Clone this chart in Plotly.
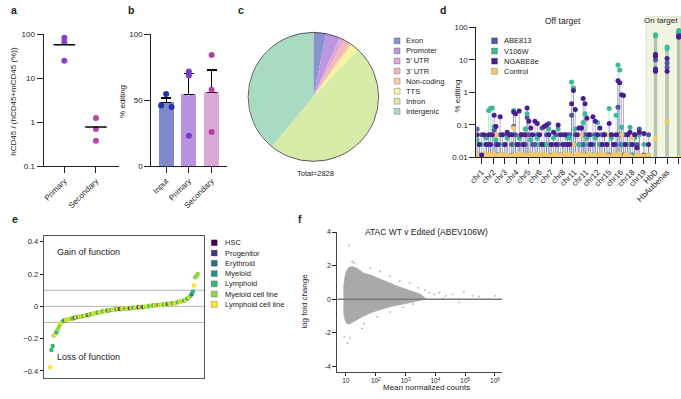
import numpy as np
import plotly.graph_objects as go

W, H = 681, 399
FONT = "Liberation Sans"
INK = "#222222"


def px(x):
    return x / W


def py(y):
    return 1 - y / H


# ---------------- data: panel a ----------------
A_CATS = ["Primary", "Secondary"]
A_PRIMARY = [83, 66, 25]
A_SECONDARY = [1.25, 0.70, 0.38]
A_COLORS = ["#8a3fc4", "#b546b0"]

# ---------------- data: panel b ----------------
B_CATS = ["Input", "Primary", "Secondary"]
B_INPUT = [54.8, 46.0, 45.0]
B_PRIMARY = [71.8, 68.7, 23.2]
B_SECONDARY = [84.4, 58.0, 26.0]
B_BAR_COLORS = ["#7f88c9", "#b893df", "#dba7d6"]
B_DOT_COLORS = ["#2335a6", "#7b3bc6", "#b0429f"]

# ---------------- data: panel c ----------------
C_LABELS = ["Exon", "Promoter", "5' UTR", "3' UTR", "Non-coding", "TTS", "Intron", "Intergenic"]
C_COUNTS = [90, 100, 35, 45, 15, 57, 1386, 1100]
C_COLORS = ["#8a92d0", "#bb97e1", "#dfa8da", "#f1b8b5", "#f8d09f", "#f7f3a3", "#d7eba9", "#a8dbc2"]

# ---------------- data: panel d ----------------
D_LABELS = ["chr1", "chr2", "chr3", "chr4", "chr5", "chr6", "chr7", "chr8", "chr11", "chr11",
            "chr12", "chr15", "chr16", "chr18", "chr19", "HbD", "HbAubenas", "Total correction"]
D_SERIES = ["ABE813", "V106W", "NGABE8e", "Control"]
D_COLORS = ["#4b58a3", "#3db896", "#4a1d8f", "#f6c86b"]

ABE813_OFF = [
    [0.075, 0.025, 0.05, 0.012, 0.025],
    [0.025, 0.05, 0.012, 0.07, 0.025, 0.012],
    [0.05, 0.012, 0.025, 0.05, 0.01],
    [0.025, 0.09, 0.05, 0.012, 0.025, 0.05],
    [0.05, 0.025, 0.17, 0.05, 0.012, 0.025],
    [0.025, 0.05, 0.012, 0.08, 0.025],
    [0.05, 0.11, 0.025, 0.012, 0.05],
    [0.025, 0.012, 0.05, 0.025, 0.05],
    [0.05, 0.2, 0.025, 0.05, 0.012, 0.025],
    [0.08, 0.025, 0.05, 0.012, 0.025, 0.05],
    [0.025, 0.05, 0.012, 0.025, 0.05],
    [0.05, 0.025, 0.012, 0.05, 0.025],
    [0.025, 0.35, 0.05, 0.025, 0.012, 0.05],
    [0.05, 0.025, 0.012, 0.05, 0.025],
    [0.075, 0.012, 0.05],
]
V106W_OFF = [
    [0.035, 0.012, 0.025, 0.01, 0.04],
    [0.28, 0.32, 0.33, 0.09, 0.035, 0.012],
    [0.025, 0.01, 0.012, 0.04, 0.01],
    [0.012, 0.28, 0.025, 0.01, 0.04, 0.012],
    [0.025, 0.075, 0.22, 0.012, 0.035, 0.01],
    [0.012, 0.04, 0.025, 0.01, 0.012],
    [0.025, 0.075, 0.012, 0.04, 0.01],
    [0.075, 0.012, 0.025, 0.01, 0.04],
    [0.04, 2.1, 1.4, 0.075, 0.012, 0.025],
    [0.012, 0.12, 0.22, 0.04, 0.025, 0.012],
    [0.012, 0.04, 0.12, 0.025, 0.01],
    [0.025, 0.012, 0.32, 0.04, 0.012],
    [0.2, 7.0, 4.9, 0.085, 0.025, 0.012],
    [0.025, 0.085, 0.012, 0.04, 0.01],
    [0.05, 0.025, 0.012],
]
NGABE8E_OFF = [
    [0.05, 0.025, 0.012, 0.05, 0.025],
    [0.05, 0.025, 0.05, 0.2, 0.09, 0.025],
    [0.18, 0.05, 0.025, 0.06, 0.05],
    [0.05, 0.25, 0.22, 0.025, 0.27, 0.05],
    [0.025, 0.05, 0.33, 0.13, 0.08, 0.05],
    [0.13, 0.11, 0.05, 0.025, 0.09],
    [0.1, 0.05, 0.025, 0.06, 0.025],
    [0.1, 0.05, 0.025, 0.05, 0.025],
    [0.025, 0.45, 1.15, 0.3, 0.05, 0.08],
    [0.08, 0.65, 0.45, 0.16, 0.05, 0.025],
    [0.18, 0.13, 0.05, 0.08, 0.025],
    [0.05, 0.025, 0.11, 0.05, 0.025],
    [0.05, 2.3, 2.0, 0.85, 0.8, 0.025],
    [0.05, 0.06, 0.025, 0.05, 0.02],
    [0.06, 0.055, 0.025],
]
CONTROL_OFF = [
    [0.012, 0.011, 0.01, 0.012, 0.013],
    [0.011, 0.012, 0.01, 0.013, 0.05, 0.011],
    [0.012, 0.013, 0.011, 0.012, 0.01],
    [0.011, 0.08, 0.012, 0.01, 0.013, 0.012],
    [0.012, 0.05, 0.011, 0.012, 0.01, 0.013],
    [0.011, 0.012, 0.013, 0.01, 0.012],
    [0.012, 0.011, 0.01, 0.013, 0.012],
    [0.01, 0.012, 0.011, 0.013, 0.012],
    [0.012, 0.011, 0.025, 0.01, 0.013, 0.012],
    [0.05, 0.012, 0.011, 0.01, 0.013, 0.012],
    [0.011, 0.012, 0.01, 0.013, 0.012],
    [0.012, 0.05, 0.011, 0.01, 0.013],
    [0.011, 0.012, 0.013, 0.05, 0.01, 0.012],
    [0.012, 0.011, 0.04, 0.01, 0.012],
    [0.012, 0.011, 0.012],
]
ABE813_ON = [[10, 5.5], [8, 6], [65]]
V106W_ON = [[60, 55], [25, 22], [80, 75]]
NGABE8E_ON = [[15, 13, 4.8, 4.5], [11, 4.5], [55, 50]]
CONTROL_ON = [[0.038], [0.13], [0.01]]

# ---------------- data: panel e ----------------
E_CATEGORIES = ["HSC", "Progenitor", "Erythroid", "Myeloid", "Lymphoid", "Myeloid cell line", "Lymphoid cell line"]
E_CODES_KEY = ["H", "P", "E", "M", "L", "m", "l"]
E_COLORS = ["#440154", "#443983", "#31688e", "#21908c", "#35b779", "#8fd744", "#fde725"]
E_VALUES = [
    -0.378, -0.27, -0.245, -0.18, -0.175, -0.16, -0.145, -0.128, -0.114, -0.101,
    -0.094, -0.089, -0.086, -0.084, -0.082, -0.080, -0.078, -0.077, -0.075, -0.073,
    -0.071, -0.069, -0.067, -0.066, -0.064, -0.063, -0.061, -0.059, -0.058, -0.056,
    -0.055, -0.053, -0.051, -0.049, -0.047, -0.046, -0.044, -0.042, -0.040, -0.038,
    -0.037, -0.035, -0.033, -0.031, -0.030, -0.028, -0.026, -0.025, -0.024, -0.023,
    -0.022, -0.021, -0.020, -0.019, -0.018, -0.017, -0.016, -0.016, -0.015, -0.015,
    -0.014, -0.013, -0.012, -0.012, -0.011, -0.011, -0.010, -0.010, -0.009, -0.008,
    -0.008, -0.007, -0.006, -0.006, -0.005, -0.004, -0.004, -0.003, -0.002, 0.000,
    0.002, 0.003, 0.004, 0.005, 0.005, 0.006, 0.007, 0.008, 0.008, 0.009,
    0.010, 0.010, 0.011, 0.012, 0.013, 0.014, 0.015, 0.016, 0.017, 0.018,
    0.019, 0.020, 0.022, 0.024, 0.026, 0.028, 0.029, 0.031, 0.033, 0.036,
    0.040, 0.045, 0.050, 0.056, 0.063, 0.075, 0.092, 0.13, 0.18, 0.19, 0.20,
]
E_CODES = list(
    "lLLmlLmmmlmLMlm"
    "lmlLmPlmMlmlLml"
    "mPlmLlmlmMlmlLm"
    "lmElmLlmlMlmHlm"
    "lLmlmPlmMlmlHlm"
    "LPlmlmLmlMlmlEl"
    "mlmLlmPlmlMlmlL"
    "mlmlMlmLlmMLlmmm"
)

# ---------------- data: panel f ----------------
F_ENV_X = [8.2, 9.1, 10.5, 12.6, 16.2, 23.4, 40, 66, 141, 302, 645, 1380, 2630, 3800, 4900]
F_ENV_UP = [0.6, 1.3, 1.7, 1.9, 1.95, 1.85, 1.55, 1.45, 1.2, 0.95, 0.72, 0.52, 0.35, 0.2, 0.05]
F_ENV_LO = [-0.7, -1.2, -1.45, -1.5, -1.4, -1.25, -1.0, -0.82, -0.63, -0.45, -0.33, -0.22, -0.12, -0.04, 0.0]
F_OUT_X = [12.6, 11.2, 8.7, 13.5, 16, 18.6, 9.8, 35, 66, 141, 302, 645, 1380, 2630, 4370, 6300,
           9300, 13800, 22400, 38000, 63000, 91000, 174000, 288000, 1020000, 1780, 830, 302, 110,
           40, 2340, 18000, 29000]
F_OUT_Y = [3.2, -2.62, -2.23, -2.3, 2.23, 2.17, -1.2, -1.74, 1.84, 1.65, 1.36, 1.07, 0.97, 0.68,
           0.54, 0.39, 0.29, 0.39, 0.2, 0.29, -0.19, 0.45, 0.2, 0.16, 0.2, -0.29, -0.48, -0.77,
           -1.06, -1.45, 0.04, 0.04, 0.0]

fig = go.Figure()

# ================= panel a =================
for i, vals in enumerate([A_PRIMARY, A_SECONDARY]):
    fig.add_trace(go.Scatter(x=[i] * len(vals), y=vals, mode="markers",
                             marker=dict(color=A_COLORS[i], size=6),
                             xaxis="x", yaxis="y", showlegend=False, hoverinfo="skip"))
    m = float(np.mean(vals))
    fig.add_trace(go.Scatter(x=[i - 0.34, i + 0.34], y=[m, m], mode="lines",
                             line=dict(color="black", width=1.5),
                             xaxis="x", yaxis="y", showlegend=False, hoverinfo="skip"))

# ================= panel b =================
b_groups = [B_INPUT, B_PRIMARY, B_SECONDARY]
b_means = [float(np.mean(v)) for v in b_groups]
b_sems = [float(np.std(v, ddof=1) / np.sqrt(len(v))) for v in b_groups]
fig.add_trace(go.Bar(x=list(range(len(B_CATS))), y=b_means, width=0.65,
                     marker=dict(color=B_BAR_COLORS, line=dict(width=0)),
                     error_y=dict(type="data", array=b_sems, arrayminus=[0] * 3, symmetric=False,
                                  color="black", thickness=1.2, width=5),
                     xaxis="x2", yaxis="y2", showlegend=False, hoverinfo="skip"))
b_jitter = [[0.0, -0.22, 0.24], [0.0, 0.0, 0.0], [0.0, 0.0, 0.0]]
for i, vals in enumerate(b_groups):
    fig.add_trace(go.Scatter(x=[i + j for j in b_jitter[i]], y=vals, mode="markers",
                             marker=dict(color=B_DOT_COLORS[i], size=6),
                             xaxis="x2", yaxis="y2", showlegend=False, hoverinfo="skip"))

# ================= panel c =================
fig.add_trace(go.Pie(labels=C_LABELS, values=C_COUNTS, sort=False, direction="clockwise",
                     rotation=0, textinfo="none", hoverinfo="skip", showlegend=False,
                     marker=dict(colors=C_COLORS, line=dict(width=0)),
                     domain=dict(x=[px(243), px(375)], y=[py(161), py(29)])))

# ================= panel d =================
off_sets = [ABE813_OFF, V106W_OFF, NGABE8E_OFF, CONTROL_OFF]
on_sets = [ABE813_ON, V106W_ON, NGABE8E_ON, CONTROL_ON]
n_off = len(ABE813_OFF)
SPREAD = 0.8


def off_positions(groups):
    xs, ys = [], []
    for g, sites in enumerate(groups):
        n = len(sites)
        for j, v in enumerate(sites):
            off = 0.0 if n == 1 else (j / (n - 1) - 0.5) * SPREAD
            xs.append(g + off)
            ys.append(v)
    return xs, ys


def on_positions(groups):
    xs, ys = [], []
    for g, reps in enumerate(groups):
        for v in reps:
            xs.append(n_off + g)
            ys.append(v)
    return xs, ys


def rgba(hexc, a):
    h = hexc.lstrip("#")
    return "rgba(%d,%d,%d,%.2f)" % (int(h[0:2], 16), int(h[2:4], 16), int(h[4:6], 16), a)


for k in range(4):
    xs, ys = off_positions(off_sets[k])
    sx, sy = [], []
    for x, y in zip(xs, ys):
        sx += [x, x, None]
        sy += [0.01, y, None]
    fig.add_trace(go.Scatter(x=sx, y=sy, mode="lines",
                             line=dict(color=rgba(D_COLORS[k], 0.35), width=1),
                             xaxis="x3", yaxis="y3", showlegend=False, hoverinfo="skip"))
sx, sy = [], []
for g in range(len(ABE813_ON)):
    top = max(max(s[g]) for s in on_sets)
    sx += [n_off + g, n_off + g, None]
    sy += [0.01, top, None]
fig.add_trace(go.Scatter(x=sx, y=sy, mode="lines", line=dict(color="#b6c3b0", width=3.5),
                         xaxis="x3", yaxis="y3", showlegend=False, hoverinfo="skip"))
for k in [0, 1, 3, 2]:
    xs, ys = off_positions(off_sets[k])
    xo, yo = on_positions(on_sets[k])
    fig.add_trace(go.Scatter(x=xs + xo, y=ys + yo, mode="markers",
                             marker=dict(color=D_COLORS[k], size=5),
                             xaxis="x3", yaxis="y3", showlegend=False, hoverinfo="skip"))

# ================= panel e =================
e_color_of = dict(zip(E_CODES_KEY, E_COLORS))
fig.add_trace(go.Scatter(x=list(range(len(E_VALUES))), y=E_VALUES, mode="markers",
                         marker=dict(color=[e_color_of[c] for c in E_CODES], size=4.5),
                         xaxis="x4", yaxis="y4", showlegend=False, hoverinfo="skip"))

# ================= panel f =================
fig.add_trace(go.Scatter(x=F_ENV_X + F_ENV_X[::-1], y=F_ENV_UP + F_ENV_LO[::-1], mode="lines",
                         fill="toself", fillcolor="#a9a9a9", line=dict(width=0.6, color="#a9a9a9"),
                         xaxis="x5", yaxis="y5", showlegend=False, hoverinfo="skip"))
fig.add_trace(go.Scatter(x=F_OUT_X, y=F_OUT_Y, mode="markers",
                         marker=dict(color="#b0b0b0", size=1.8),
                         xaxis="x5", yaxis="y5", showlegend=False, hoverinfo="skip"))

# ================= axes =================
base = dict(showline=True, linecolor=INK, linewidth=1, ticks="outside", tickcolor=INK,
            showgrid=False, zeroline=False, tickfont=dict(family=FONT, size=8, color=INK))

layout = dict(
    width=W, height=H, margin=dict(l=0, r=0, t=0, b=0),
    paper_bgcolor="white", plot_bgcolor="rgba(0,0,0,0)",
    font=dict(family=FONT, size=8, color=INK),
    showlegend=False,
    bargap=0,
)
layout["xaxis"] = dict(base, domain=[px(36), px(112)], range=[-0.656, 1.72], tickvals=[0, 1],
                       ticktext=A_CATS, tickangle=-45, ticklen=6, anchor="y")
layout["yaxis"] = dict(base, domain=[py(166), py(31)], type="log", range=[-1, 2],
                       tickvals=[0.1, 1, 10, 100], ticktext=["0.1", "1", "10", "100"],
                       ticklen=6, anchor="x")
layout["xaxis2"] = dict(base, domain=[px(145), px(221.7)], range=[-0.652, 2.68], tickvals=[0, 1, 2],
                        ticktext=B_CATS, tickangle=-45, ticklen=6, anchor="y2")
layout["yaxis2"] = dict(base, domain=[py(166), py(31)], range=[0, 100], tickvals=[0, 50, 100],
                        ticklen=6, anchor="x2")
layout["xaxis3"] = dict(base, domain=[px(474), 1.0], range=[-0.45, 17.2],
                        tickvals=list(range(len(D_LABELS))), ticktext=D_LABELS, tickangle=-45,
                        ticklen=6, anchor="y3")
layout["yaxis3"] = dict(base, domain=[py(157), py(24)], type="log", range=[-2, 2],
                        tickvals=[0.01, 0.1, 1, 10, 100],
                        ticktext=["0.01", "0.1", "1", "10", "100"], ticklen=6, anchor="x3")
layout["xaxis4"] = dict(base, domain=[px(36), px(198.3)], range=[-5.4, 125.1], ticks="",
                        showticklabels=False, mirror=True, linecolor="#555555", anchor="y4")
layout["yaxis4"] = dict(base, domain=[py(382.3), py(237.7)], range=[-0.442, 0.434],
                        tickvals=[-0.4, -0.2, 0, 0.2, 0.4],
                        ticktext=["\u22120.4", "\u22120.2", "0", "0.2", "0.4"], ticklen=3,
                        mirror=True, linecolor="#555555", tickfont=dict(family=FONT, size=7.5, color=INK),
                        anchor="x4")
layout["xaxis5"] = dict(base, domain=[px(333.3), px(500)], type="log", range=[0.712, 6.24],
                        tickvals=[10, 100, 1e3, 1e4, 1e5, 1e6],
                        ticktext=["10", "10<sup>2</sup>", "10<sup>3</sup>", "10<sup>4</sup>",
                                  "10<sup>5</sup>", "10<sup>6</sup>"],
                        ticklen=3, linecolor="#444444", tickfont=dict(family=FONT, size=6.5, color=INK),
                        anchor="y5")
layout["yaxis5"] = dict(base, domain=[py(376), py(233.3)], range=[-4.31, 4], tickvals=[-4, -2, 0, 2, 4],
                        ticktext=["-4", "-2", "0", "2", "4"],
                        ticklen=4, linecolor="#444444", tickfont=dict(family=FONT, size=7, color=INK),
                        anchor="x5")

shapes = []
shapes.append(dict(type="circle", xref="paper", yref="paper", x0=px(243), x1=px(375),
                   y0=py(161), y1=py(29), line=dict(color="#333333", width=0.8)))
shapes.append(dict(type="rect", xref="x3", yref="paper", x0=14.2, x1=17.2, y0=py(157), y1=py(13),
                   fillcolor="#f0f5e1", line=dict(color="#c5cfb0", width=0.6), layer="below"))
for v in [-0.1, 0, 0.1]:
    shapes.append(dict(type="line", xref="x4 domain", yref="y4", x0=0, x1=1, y0=v, y1=v,
                       line=dict(color="#b5b5b5", width=1), layer="below"))
shapes.append(dict(type="line", xref="x5 domain", yref="y5", x0=0, x1=1, y0=0, y1=0,
                   line=dict(color="#7a7a7a", width=1.5)))

annotations = []


def text(x, y, s, size=8, anchor="left", bold=False, angle=0, color=INK):
    annotations.append(dict(x=px(x), y=py(y), xref="paper", yref="paper", text=("<b>%s</b>" % s) if bold else s,
                            showarrow=False, xanchor=anchor, yanchor="middle", textangle=angle,
                            font=dict(family=FONT, size=size, color=color)))


for lab, x, y in [("a", 1, 6), ("b", 119, 6), ("c", 231, 6), ("d", 435, 6), ("e", 2, 220), ("f", 291, 220)]:
    text(x, y, lab, size=10.5, bold=True)

text(6, 99, "hCD45 / (hCD45+mCD45 (%))", size=8, anchor="center", angle=-90)
text(116.5, 100, "% editing", size=8, anchor="center", angle=-90)
text(455, 94, "% editing", size=8, anchor="center", angle=-90)
text(300, 304, "log fold change", size=8, anchor="center", angle=-90)
text(423, 392.5, "Mean normalized counts", size=8, anchor="center")
text(423, 233.5, "ATAC WT v Edited (ABEV106W)", size=8.5, anchor="center")
text(562, 17, "Off target", size=8.5, anchor="center")
text(661, 17, "On target", size=8, anchor="center")
text(48, 254, "Gain of function", size=9)
text(48, 361.5, "Loss of function", size=9)
text(311.5, 173.5, "Total=%d" % sum(C_COUNTS), size=7.5, anchor="center")


def legend(x_sq, x_txt, y0, step, labels, colors, size=7.5):
    for i, (lab, col) in enumerate(zip(labels, colors)):
        y = y0 + i * step
        shapes.append(dict(type="rect", xref="paper", yref="paper",
                           x0=px(x_sq - 3), x1=px(x_sq + 3), y0=py(y + 3), y1=py(y - 3),
                           fillcolor=col, line=dict(color="rgba(60,60,60,0.6)", width=0.5)))
        text(x_txt, y, lab, size=size)


legend(393.7, 401, 37.7, 10.3, C_LABELS, C_COLORS)
legend(492.3, 500, 37.7, 10.4, D_SERIES, D_COLORS)
legend(208.7, 218, 244.3, 10.5, E_CATEGORIES, E_COLORS)

layout["shapes"] = shapes
layout["annotations"] = annotations
fig.update_layout(**layout)
fig.write_html("out.html",
               config=dict(displayModeBar=False, staticPlot=True),
               post_script="document.body.style.margin='0';document.body.style.padding='0';"
                           "document.body.style.overflow='hidden';")
